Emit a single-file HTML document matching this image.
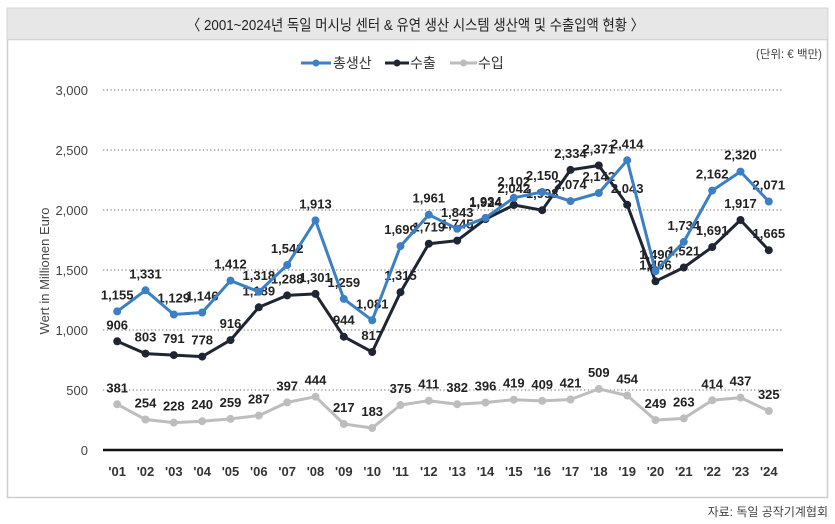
<!DOCTYPE html>
<html><head><meta charset="utf-8"><style>
html,body{margin:0;padding:0;background:#fff;}
svg{display:block;font-family:"Liberation Sans","Noto Sans CJK KR",sans-serif;}
.dl{font-size:13px;font-weight:700;fill:#222;text-anchor:middle;}
.yt{font-size:13px;fill:#444;text-anchor:end;}
.xt{font-size:13px;font-weight:700;fill:#333;text-anchor:middle;}
</style></head><body>
<svg width="835" height="524" viewBox="0 0 835 524" xmlns="http://www.w3.org/2000/svg">
<rect x="0" y="0" width="835" height="524" fill="#fff"/>
<!-- frame -->
<rect x="7.5" y="39.5" width="820" height="458" fill="#fff" stroke="#cfcfcf" stroke-width="1.5"/>
<rect x="7" y="8" width="821" height="31.5" fill="#e7e7e7" stroke="#d4d4d4" stroke-width="1"/>
<text x="415.5" y="30" font-size="15" fill="#222" text-anchor="middle" textLength="457" lengthAdjust="spacingAndGlyphs" font-family="'Liberation Sans','Noto Sans CJK KR',sans-serif">〈 2001~2024년 독일 머시닝 센터 &amp; 유연 생산 시스템 생산액 및 수출입액 현황 〉</text>
<text x="822" y="58" font-size="11.5" fill="#444" text-anchor="end">(단위: € 백만)</text>
<!-- legend -->
<line x1="301" y1="63" x2="331" y2="63" stroke="#3b7fc4" stroke-width="3"/><circle cx="316" cy="63" r="3.5" fill="#3b7fc4"/>
<text x="333" y="68" font-size="14" fill="#333">총생산</text>
<line x1="385" y1="63" x2="409" y2="63" stroke="#1f2633" stroke-width="3"/><circle cx="397" cy="63" r="3.5" fill="#1f2633"/>
<text x="410" y="68" font-size="14" fill="#333">수출</text>
<line x1="450" y1="63" x2="477" y2="63" stroke="#bdbdbd" stroke-width="3"/><circle cx="463.5" cy="63" r="3.5" fill="#bdbdbd"/>
<text x="478" y="68" font-size="14" fill="#333">수입</text>
<!-- gridlines -->
<g stroke="#8a8a8a" stroke-width="1.3" stroke-dasharray="1.3 2.4">
<line x1="103" y1="90" x2="783" y2="90"/>
<line x1="103" y1="150" x2="783" y2="150"/>
<line x1="103" y1="210" x2="783" y2="210"/>
<line x1="103" y1="270" x2="783" y2="270"/>
<line x1="103" y1="330" x2="783" y2="330"/>
<line x1="103" y1="390" x2="783" y2="390"/>
</g>
<line x1="103" y1="450" x2="783" y2="450" stroke="#111" stroke-width="2.5"/>
<!-- y ticks -->
<g class="yt">
<text x="88" y="95">3,000</text>
<text x="88" y="155">2,500</text>
<text x="88" y="215">2,000</text>
<text x="88" y="275">1,500</text>
<text x="88" y="335">1,000</text>
<text x="88" y="395">500</text>
<text x="88" y="455">0</text>
</g>
<text transform="translate(49,271) rotate(-90)" font-size="13" fill="#444" text-anchor="middle">Wert in Millionen Euro</text>
<!-- x ticks -->
<g class="xt">
<text x="117.2" y="476">'01</text><text x="145.5" y="476">'02</text><text x="173.8" y="476">'03</text><text x="202.2" y="476">'04</text>
<text x="230.5" y="476">'05</text><text x="258.8" y="476">'06</text><text x="287.2" y="476">'07</text><text x="315.5" y="476">'08</text>
<text x="343.8" y="476">'09</text><text x="372.2" y="476">'10</text><text x="400.5" y="476">'11</text><text x="428.8" y="476">'12</text>
<text x="457.2" y="476">'13</text><text x="485.5" y="476">'14</text><text x="513.8" y="476">'15</text><text x="542.2" y="476">'16</text>
<text x="570.5" y="476">'17</text><text x="598.8" y="476">'18</text><text x="627.2" y="476">'19</text><text x="655.5" y="476">'20</text>
<text x="683.8" y="476">'21</text><text x="712.2" y="476">'22</text><text x="740.5" y="476">'23</text><text x="768.8" y="476">'24</text>
</g>
<!-- data labels -->
<g class="dl">
<!-- total -->
<text x="117.2" y="299.4">1,155</text><text x="145.5" y="278.3">1,331</text><text x="173.8" y="302.5">1,129</text><text x="202.2" y="300.5">1,146</text>
<text x="230.5" y="268.6">1,412</text><text x="258.8" y="279.8">1,318</text><text x="287.2" y="253">1,542</text><text x="315.5" y="208.4">1,913</text>
<text x="343.8" y="286.9">1,259</text><text x="372.2" y="308.3">1,081</text><text x="400.5" y="234.1">1,699</text><text x="428.8" y="202.7">1,961</text>
<text x="457.2" y="216.8">1,843</text><text x="485.5" y="205.9">1,934</text><text x="513.8" y="185.8">2,102</text><text x="542.2" y="180">2,150</text>
<text x="570.5" y="189.1">2,074</text><text x="598.8" y="181">2,142</text><text x="627.2" y="148.3">2,414</text><text x="655.5" y="259.2">1,490</text>
<text x="683.8" y="229.9">1,734</text><text x="712.2" y="178.6">2,162</text><text x="740.5" y="159.6">2,320</text><text x="768.8" y="189.5">2,071</text>
<!-- export -->
<text x="117.2" y="329.3">906</text><text x="145.5" y="341.6">803</text><text x="173.8" y="343.1">791</text><text x="202.2" y="344.6">778</text>
<text x="230.5" y="328.1">916</text><text x="258.8" y="295.3">1,189</text><text x="287.2" y="283.4">1,288</text><text x="315.5" y="281.9">1,301</text>
<text x="343.8" y="324.7">944</text><text x="372.2" y="340">817</text><text x="400.5" y="280.2">1,315</text><text x="428.8" y="231.7">1,719</text>
<text x="457.2" y="228.6">1,745</text><text x="485.5" y="207.1">1,924</text><text x="513.8" y="193">2,042</text><text x="542.2" y="198.2">1,998</text>
<text x="570.5" y="157.9">2,334</text><text x="598.8" y="153.5">2,371</text><text x="627.2" y="192.8">2,043</text><text x="655.5" y="269.3">1,406</text>
<text x="683.8" y="255.5">1,521</text><text x="712.2" y="235.1">1,691</text><text x="740.5" y="208">1,917</text><text x="768.8" y="238.2">1,665</text>
<!-- import -->
<text x="117.2" y="392.3">381</text><text x="145.5" y="407.5">254</text><text x="173.8" y="410.6">228</text><text x="202.2" y="409.2">240</text>
<text x="230.5" y="406.9">259</text><text x="258.8" y="403.6">287</text><text x="287.2" y="390.4">397</text><text x="315.5" y="384.7">444</text>
<text x="343.8" y="412">217</text><text x="372.2" y="416">183</text><text x="400.5" y="393">375</text><text x="428.8" y="388.7">411</text>
<text x="457.2" y="392.2">382</text><text x="485.5" y="390.5">396</text><text x="513.8" y="387.7">419</text><text x="542.2" y="388.9">409</text>
<text x="570.5" y="387.5">421</text><text x="598.8" y="376.9">509</text><text x="627.2" y="383.5">454</text><text x="655.5" y="408.1">249</text>
<text x="683.8" y="406.4">263</text><text x="712.2" y="388.3">414</text><text x="740.5" y="385.6">437</text><text x="768.8" y="399">325</text>
</g>
<!-- series -->
<g fill="none" stroke-width="3" stroke-linejoin="round">
<polyline stroke="#bdbdbd" points="117.2,404.3 145.5,419.5 173.8,422.6 202.2,421.2 230.5,418.9 258.8,415.6 287.2,402.4 315.5,396.7 343.8,424 372.2,428 400.5,405 428.8,400.7 457.2,404.2 485.5,402.5 513.8,399.7 542.2,400.9 570.5,399.5 598.8,388.9 627.2,395.5 655.5,420.1 683.8,418.4 712.2,400.3 740.5,397.6 768.8,411"/>
<polyline stroke="#1f2633" points="117.2,341.3 145.5,353.6 173.8,355.1 202.2,356.6 230.5,340.1 258.8,307.3 287.2,295.4 315.5,293.9 343.8,336.7 372.2,352 400.5,292.2 428.8,243.7 457.2,240.6 485.5,219.1 513.8,205 542.2,210.2 570.5,169.9 598.8,165.5 627.2,204.8 655.5,281.3 683.8,267.5 712.2,247.1 740.5,220 768.8,250.2"/>
<polyline stroke="#3b7fc4" points="117.2,311.4 145.5,290.3 173.8,314.5 202.2,312.5 230.5,280.6 258.8,291.8 287.2,265 315.5,220.4 343.8,298.9 372.2,320.3 400.5,246.1 428.8,214.7 457.2,228.8 485.5,217.9 513.8,197.8 542.2,192 570.5,201.1 598.8,193 627.2,160.3 655.5,271.2 683.8,241.9 712.2,190.6 740.5,171.6 768.8,201.5"/>
</g>
<g fill="#bdbdbd">
<circle cx="117.2" cy="404.3" r="4"/><circle cx="145.5" cy="419.5" r="4"/><circle cx="173.8" cy="422.6" r="4"/><circle cx="202.2" cy="421.2" r="4"/><circle cx="230.5" cy="418.9" r="4"/><circle cx="258.8" cy="415.6" r="4"/><circle cx="287.2" cy="402.4" r="4"/><circle cx="315.5" cy="396.7" r="4"/><circle cx="343.8" cy="424" r="4"/><circle cx="372.2" cy="428" r="4"/><circle cx="400.5" cy="405" r="4"/><circle cx="428.8" cy="400.7" r="4"/><circle cx="457.2" cy="404.2" r="4"/><circle cx="485.5" cy="402.5" r="4"/><circle cx="513.8" cy="399.7" r="4"/><circle cx="542.2" cy="400.9" r="4"/><circle cx="570.5" cy="399.5" r="4"/><circle cx="598.8" cy="388.9" r="4"/><circle cx="627.2" cy="395.5" r="4"/><circle cx="655.5" cy="420.1" r="4"/><circle cx="683.8" cy="418.4" r="4"/><circle cx="712.2" cy="400.3" r="4"/><circle cx="740.5" cy="397.6" r="4"/><circle cx="768.8" cy="411" r="4"/>
</g>
<g fill="#1f2633">
<circle cx="117.2" cy="341.3" r="4"/><circle cx="145.5" cy="353.6" r="4"/><circle cx="173.8" cy="355.1" r="4"/><circle cx="202.2" cy="356.6" r="4"/><circle cx="230.5" cy="340.1" r="4"/><circle cx="258.8" cy="307.3" r="4"/><circle cx="287.2" cy="295.4" r="4"/><circle cx="315.5" cy="293.9" r="4"/><circle cx="343.8" cy="336.7" r="4"/><circle cx="372.2" cy="352" r="4"/><circle cx="400.5" cy="292.2" r="4"/><circle cx="428.8" cy="243.7" r="4"/><circle cx="457.2" cy="240.6" r="4"/><circle cx="485.5" cy="219.1" r="4"/><circle cx="513.8" cy="205" r="4"/><circle cx="542.2" cy="210.2" r="4"/><circle cx="570.5" cy="169.9" r="4"/><circle cx="598.8" cy="165.5" r="4"/><circle cx="627.2" cy="204.8" r="4"/><circle cx="655.5" cy="281.3" r="4"/><circle cx="683.8" cy="267.5" r="4"/><circle cx="712.2" cy="247.1" r="4"/><circle cx="740.5" cy="220" r="4"/><circle cx="768.8" cy="250.2" r="4"/>
</g>
<g fill="#3b7fc4">
<circle cx="117.2" cy="311.4" r="4"/><circle cx="145.5" cy="290.3" r="4"/><circle cx="173.8" cy="314.5" r="4"/><circle cx="202.2" cy="312.5" r="4"/><circle cx="230.5" cy="280.6" r="4"/><circle cx="258.8" cy="291.8" r="4"/><circle cx="287.2" cy="265" r="4"/><circle cx="315.5" cy="220.4" r="4"/><circle cx="343.8" cy="298.9" r="4"/><circle cx="372.2" cy="320.3" r="4"/><circle cx="400.5" cy="246.1" r="4"/><circle cx="428.8" cy="214.7" r="4"/><circle cx="457.2" cy="228.8" r="4"/><circle cx="485.5" cy="217.9" r="4"/><circle cx="513.8" cy="197.8" r="4"/><circle cx="542.2" cy="192" r="4"/><circle cx="570.5" cy="201.1" r="4"/><circle cx="598.8" cy="193" r="4"/><circle cx="627.2" cy="160.3" r="4"/><circle cx="655.5" cy="271.2" r="4"/><circle cx="683.8" cy="241.9" r="4"/><circle cx="712.2" cy="190.6" r="4"/><circle cx="740.5" cy="171.6" r="4"/><circle cx="768.8" cy="201.5" r="4"/>
</g>
<text x="828" y="516" font-size="12" fill="#444" text-anchor="end">자료: 독일 공작기계협회</text>
</svg>
</body></html>
